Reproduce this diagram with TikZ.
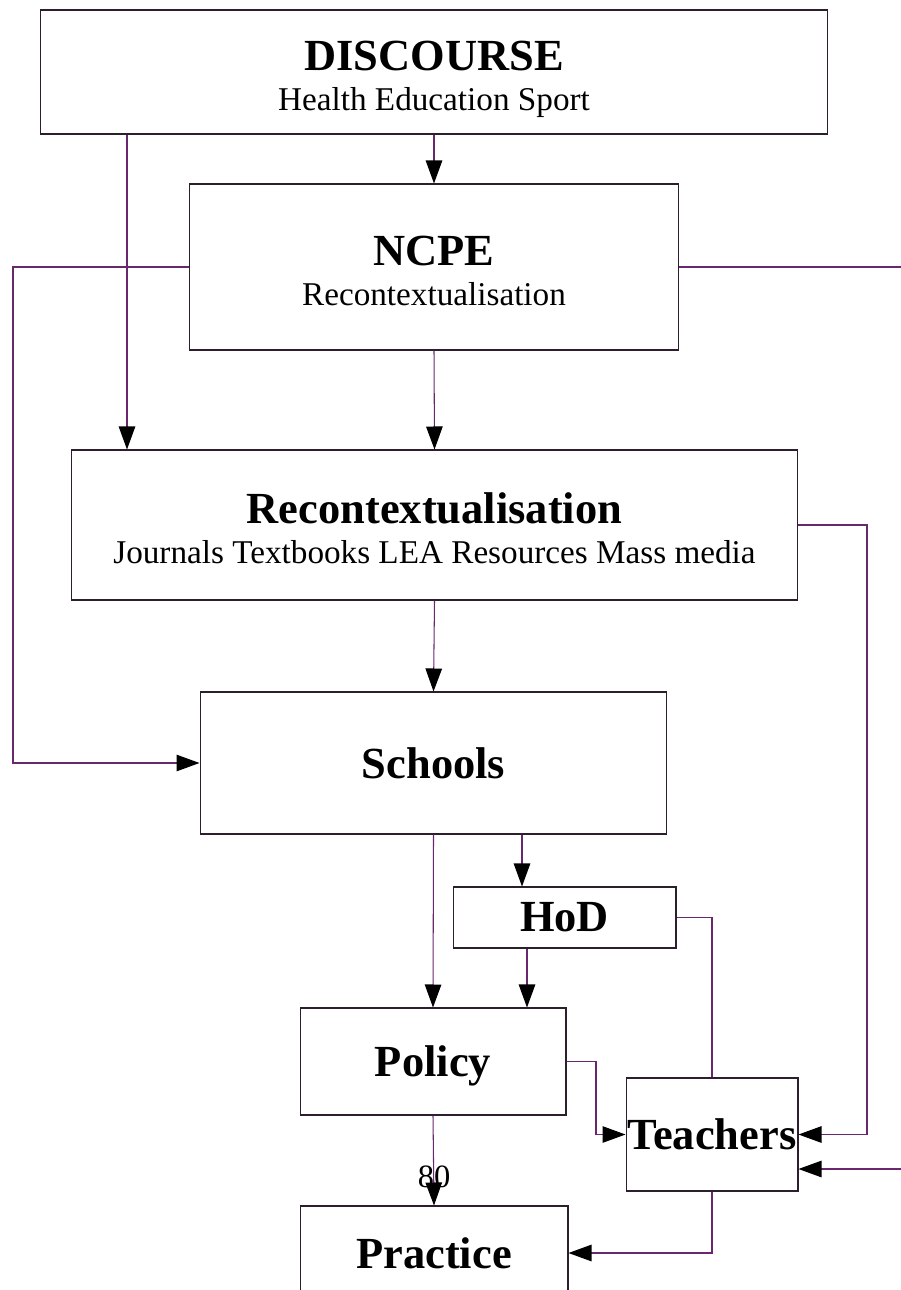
\documentclass[tikz,border=0pt]{standalone}
\usepackage{fontspec}
\setmainfont{Liberation Serif}
\usetikzlibrary{arrows.meta}

\newcommand{\boxtitle}[1]{{\fontsize{25.3}{22.7}\selectfont\bfseries #1}}

\begin{document}
\begin{tikzpicture}[x=0.02cm, y=-0.02cm,
	box/.style={draw=boxline, line width=0.6pt, inner sep=0pt, align=center, font=\fontsize{18.9}{22.7}\selectfont},
	link/.style={draw=linkpurple, line width=0.6pt, -{Triangle[length=0.46cm,width=0.33cm,color=black]}},
	plain/.style={draw=linkpurple, line width=0.6pt}]
	\definecolor{linkpurple}{RGB}{105,40,110}
	\definecolor{boxline}{RGB}{45,30,45}

	\useasboundingbox (0,0) rectangle (901,1290);

	% boxes
	\node[box, minimum width=15.76cm, minimum height=2.48cm] (discourse) at (434,72) {\rule{0pt}{25pt}\boxtitle{DISCOURSE}\\Health Education Sport};
	\node[box, minimum width=9.8cm, minimum height=3.32cm] (ncpe) at (434,267) {\rule{0pt}{21pt}\boxtitle{NCPE}\\Recontextualisation};
	\node[box, minimum width=14.54cm, minimum height=3.0cm] (recon) at (434.5,525) {\rule{0pt}{21pt}\boxtitle{Recontextualisation}\\Journals Textbooks LEA Resources Mass media};
	\node[box, minimum width=9.34cm, minimum height=2.84cm] (schools) at (433.5,763) {\boxtitle{Schools}};
	\node[box, minimum width=4.46cm, minimum height=1.22cm] (hod) at (564.5,917.5) {\boxtitle{HoD}};
	\node[box, minimum width=5.32cm, minimum height=2.14cm] (policy) at (433,1061.5) {\rule{0pt}{22pt}\boxtitle{Policy}};
	\node[box, minimum width=3.44cm, minimum height=2.26cm] (teachers) at (712,1134.5) {\boxtitle{Teachers}};
	\node[box, minimum width=5.36cm, minimum height=1.88cm] (practice) at (434,1253) {\boxtitle{Practice}};

	% routing columns
	\coordinate (lrail) at (13,0);
	\coordinate (rrail) at (910,0);
	\coordinate (mrail) at (867,0);
	\coordinate (drop) at (127,0);
	\coordinate (hodin) at (522,0);
	\coordinate (hodout) at (527,0);
	\coordinate (pjog) at (596,0);
	\coordinate (tlow) at ([yshift=-0.69cm]teachers.east);

	% connectors
	\draw[link] (discourse.south) -- (ncpe.north);
	\draw[link] (discourse.south -| drop) -- (recon.north -| drop);
	\draw[link] (ncpe.south) -- (recon.north);
	\draw[link] (ncpe.west) -- (ncpe.west -| lrail) -- (schools.west -| lrail) -- (schools.west);
	\draw[link] (ncpe.east) -- (ncpe.east -| rrail) -- (rrail |- tlow) -- (tlow);
	\draw[link] (recon.east) -- (recon.east -| mrail) -- (mrail |- teachers.east) -- (teachers.east);
	\draw[link] (recon.south) -- (schools.north);
	\draw[link] (schools.south) -- (policy.north);
	\draw[link] (schools.south -| hodin) -- (hod.north -| hodin);
	\draw[link] (hod.south -| hodout) -- (policy.north -| hodout);
	\draw[plain] (hod.east) -| (teachers.north);
	\draw[link] (policy.east) -- (policy.east -| pjog) -- (pjog |- teachers.west) -- (teachers.west);
	\draw[link] (policy.south) -- (practice.north);
	\draw[link] (teachers.south) |- (practice.east);

	\node[font=\fontsize{18.5}{22}\selectfont] (pagenum) at (434,1177) {80};
\end{tikzpicture}
\end{document}
